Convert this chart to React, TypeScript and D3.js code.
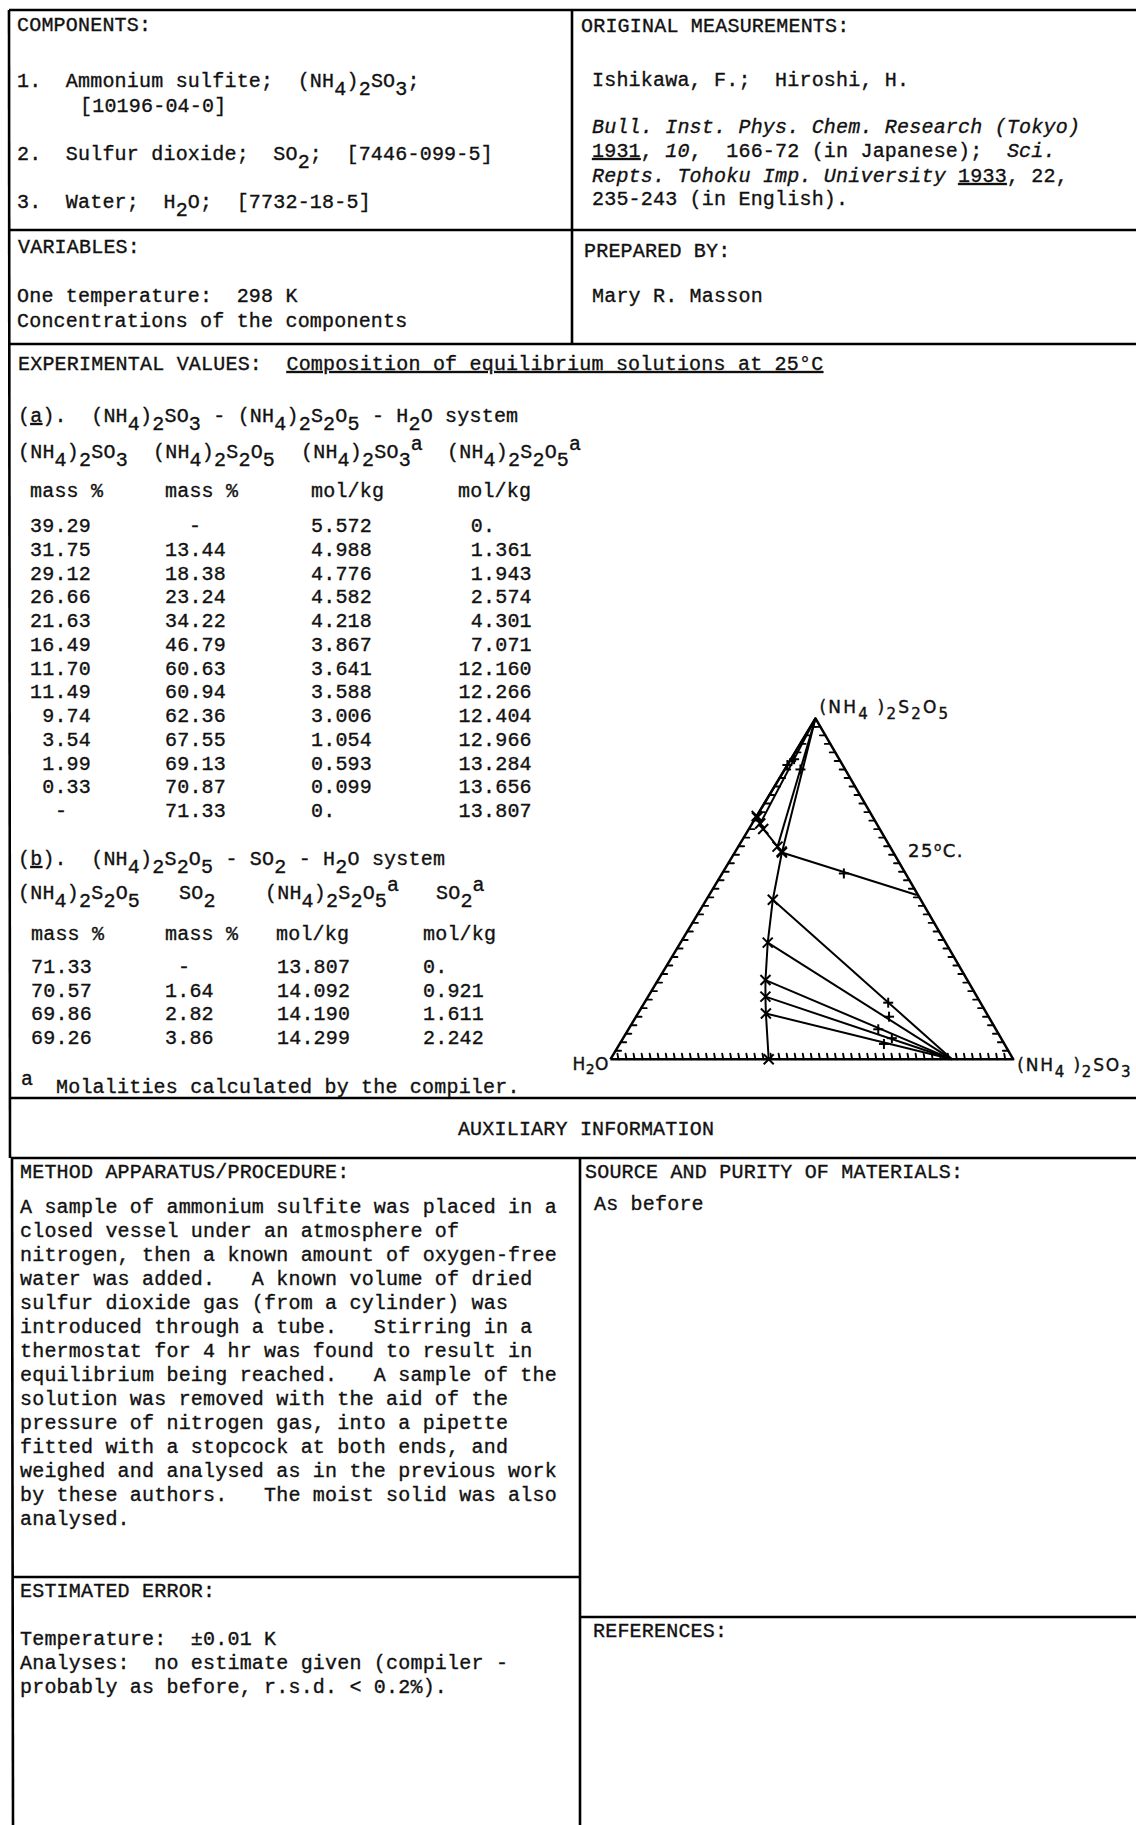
import React from "react";
import * as d3 from "d3";

// ---------- table (a): (NH4)2SO3 - (NH4)2S2O5 - H2O ----------
const aSulfiteMass = ["39.29", "31.75", "29.12", "26.66", "21.63", "16.49", "11.70", "11.49", "9.74", "3.54", "1.99", "0.33", "-"];
const aPyroMass = ["-", "13.44", "18.38", "23.24", "34.22", "46.79", "60.63", "60.94", "62.36", "67.55", "69.13", "70.87", "71.33"];
const aSulfiteMolal = ["5.572", "4.988", "4.776", "4.582", "4.218", "3.867", "3.641", "3.588", "3.006", "1.054", "0.593", "0.099", "0."];
const aPyroMolal = ["0.", "1.361", "1.943", "2.574", "4.301", "7.071", "12.160", "12.266", "12.404", "12.966", "13.284", "13.656", "13.807"];

// ---------- table (b): (NH4)2S2O5 - SO2 - H2O ----------
const bPyroMass = ["71.33", "70.57", "69.86", "69.26"];
const bSO2Mass = ["-", "1.64", "2.82", "3.86"];
const bPyroMolal = ["13.807", "14.092", "14.190", "14.299"];
const bSO2Molal = ["0.", "0.921", "1.611", "2.242"];

// ---------- tie lines of the phase diagram (mass % sulfite, mass % pyrosulfite) ----------
const hydrateSolid: [number, number] = [84.8, 0];
const hydrateTieRows = [1, 2, 3, 4, 5];
const hydrateResidues: [number, number][] = [[65.6, 4.5], [66.7, 6.2], [62.0, 8.8], [62.8, 12.5], [60.5, 16.6]];
const pyroSolid: [number, number] = [0, 100];
const pyroTieRows = [12, 10, 8, 6];
const pyroResidues: ([number, number] | null)[] = [[0, 86.3], [0.8, 88.0], [3.9, 85.0], null];
const invariantRow = 6;
const invariantEnd: [number, number] = [51.5, 48.2];
const invariantResidue: [number, number] = [30.2, 54.5];

const procedureLines = [
  "A sample of ammonium sulfite was placed in a",
  "closed vessel under an atmosphere of",
  "nitrogen, then a known amount of oxygen-free",
  "water was added.   A known volume of dried",
  "sulfur dioxide gas (from a cylinder) was",
  "introduced through a tube.   Stirring in a",
  "thermostat for 4 hr was found to result in",
  "equilibrium being reached.   A sample of the",
  "solution was removed with the aid of the",
  "pressure of nitrogen gas, into a pipette",
  "fitted with a stopcock at both ends, and",
  "weighed and analysed as in the previous work",
  "by these authors.   The moist solid was also",
  "analysed.",
];

const FONT = "'Liberation Mono', 'DejaVu Sans Mono', monospace";
const PLOT_FONT = "'DejaVu Sans', 'Liberation Sans', sans-serif";
const FS = 20;
const LS = 0.2;
const CW = FS * 0.6 + LS;
const INK = "#111";
const TEXT_STROKE = { stroke: INK, strokeWidth: 0.35 };

type Span = { t: string; sub?: boolean; sup?: boolean; it?: boolean; ul?: boolean };

// "_x" makes one subscript character, "^x" one superscript character
function parse(s: string, extra: Partial<Span> = {}): Span[] {
  const out: Span[] = [];
  let buf = "";
  for (let i = 0; i < s.length; i++) {
    const c = s[i];
    if ((c === "_" || c === "^") && i + 1 < s.length) {
      if (buf) { out.push({ t: buf, ...extra }); buf = ""; }
      out.push({ t: s[i + 1], sub: c === "_", sup: c === "^", ...extra });
      i++;
    } else buf += c;
  }
  if (buf) out.push({ t: buf, ...extra });
  return out;
}

function Rich(props: {
  x: number; y: number; spans: Span[]; subDy?: number; supDy?: number;
  subSize?: number; font?: string; size?: number; ls?: number; anchor?: string; weight?: number;
}) {
  const { x, y, spans, subDy = 8, supDy = -8, subSize, font = FONT, size = FS, ls = LS, anchor, weight = 0.35 } = props;
  let cur = 0;
  return (
    <text x={x} y={y} fontFamily={font} fontSize={size} letterSpacing={ls} fill={INK}
      stroke={INK} strokeWidth={weight}
      textAnchor={anchor as any} style={{ whiteSpace: "pre" }}>
      {spans.map((s, i) => {
        const target = s.sub ? subDy : s.sup ? supDy : 0;
        const dy = target - cur;
        cur = target;
        return (
          <tspan key={i} dy={dy !== 0 ? dy : undefined}
            fontSize={(s.sub || s.sup) && subSize ? subSize : undefined}
            fontStyle={s.it ? "italic" : undefined}
            textDecoration={s.ul ? "underline" : undefined}>
            {s.t}
          </tspan>
        );
      })}
    </text>
  );
}

const T = (x: number, y: number, s: string, extra: Partial<Span> = {}) => (
  <Rich x={x} y={y} spans={parse(s, extra)} />
);

function numCell(str: string, decX: number, dashX: number, y: number, key: string) {
  if (str === "-") {
    return <text key={key} x={dashX} y={y} fontFamily={FONT} fontSize={FS} fill={INK} {...TEXT_STROKE} textAnchor="middle">-</text>;
  }
  const idx = str.indexOf(".");
  const i = idx < 0 ? str.length : idx;
  return (
    <text key={key} x={decX - i * CW} y={y} fontFamily={FONT} fontSize={FS} letterSpacing={LS} fill={INK} {...TEXT_STROKE}>{str}</text>
  );
}

const val = (s: string) => (s === "-" ? 0 : parseFloat(s));

// ternary geometry: H2O at lower left, (NH4)2SO3 at lower right, (NH4)2S2O5 at apex
const bY = d3.scaleLinear().domain([0, 100]).range([1059.3, 718.3]);
const aX = d3.scaleLinear().domain([0, 100]).range([0, 402.9]);
const bX = d3.scaleLinear().domain([0, 100]).range([0, 205.1]);
const X0 = 610.4;
const tern = (a: number, b: number): [number, number] => [X0 + aX(a) + bX(b), bY(b)];

const MARK = 5;

function Cross({ p }: { p: [number, number] }) {
  return (
    <g>
      <line x1={p[0] - MARK} y1={p[1] - MARK} x2={p[0] + MARK} y2={p[1] + MARK} />
      <line x1={p[0] - MARK} y1={p[1] + MARK} x2={p[0] + MARK} y2={p[1] - MARK} />
    </g>
  );
}
function Plus({ p }: { p: [number, number] }) {
  return (
    <g>
      <line x1={p[0] - MARK} y1={p[1]} x2={p[0] + MARK} y2={p[1]} />
      <line x1={p[0]} y1={p[1] - MARK} x2={p[0]} y2={p[1] + MARK} />
    </g>
  );
}

function Ternary() {
  const line = d3.line();
  const solution: [number, number][] = aSulfiteMass.map((s, i) => [val(s), val(aPyroMass[i])]);
  const solPts = solution.map(([a, b]) => tern(a, b));
  const vH = tern(0, 0), vR = tern(100, 0), vT = tern(0, 100);

  const ticks: JSX.Element[] = [];
  d3.range(2, 100, 2).forEach((a) => {
    const p = tern(a, 0);
    ticks.push(<line key={"tb" + a} x1={p[0]} y1={p[1]} x2={p[0] - 1} y2={p[1] - 5.5} />);
  });
  d3.range(2.5, 100, 2.5).forEach((b) => {
    const pl = tern(0, b);
    ticks.push(<line key={"tl" + b} x1={pl[0]} y1={pl[1]} x2={pl[0] + 5.5} y2={pl[1]} />);
    const pr = tern(100 - b, b);
    ticks.push(<line key={"tr" + b} x1={pr[0]} y1={pr[1]} x2={pr[0] - 5.5} y2={pr[1]} />);
  });

  return (
    <g>
      <g stroke="#000" strokeWidth={1.9} fill="none" strokeLinecap="round">{ticks}</g>
      <path d={line([vH, vR, vT, vH]) as string} fill="none" stroke="#000" strokeWidth={2.5} strokeLinejoin="round" />
      <g stroke="#000" strokeWidth={2} fill="none">
        <path d={line(solPts) as string} />
        {hydrateTieRows.map((r, i) => (
          <path key={"h" + i} d={line([solPts[r], tern(...hydrateSolid)]) as string} />
        ))}
        {pyroTieRows.map((r, i) => (
          <path key={"p" + i} d={line([solPts[r], tern(...pyroSolid)]) as string} />
        ))}
        <path d={line([solPts[invariantRow], tern(...invariantEnd)]) as string} />
      </g>
      <g stroke="#000" strokeWidth={2}>
        {solPts.map((p, i) => <Cross key={"x" + i} p={p} />)}
        {hydrateResidues.map((r, i) => <Plus key={"hr" + i} p={tern(...r)} />)}
        {pyroResidues.map((r, i) => (r ? <Plus key={"pr" + i} p={tern(...r)} /> : null))}
        <Plus p={tern(...invariantResidue)} />
      </g>
      <Rich x={vT[0] + 4} y={vT[1] - 5} spans={parse("(NH_4 )_2S_2O_5")} font={PLOT_FONT} size={17} ls={2.2} subDy={6} subSize={15} weight={0.4} />
      <Rich x={vR[0] + 4} y={vR[1] + 12} spans={parse("(NH_4 )_2SO_3")} font={PLOT_FONT} size={17} ls={1.8} subDy={6} subSize={15} weight={0.4} />
      <Rich x={vH[0] - 38} y={vH[1] + 11} spans={parse("H_2O")} font={PLOT_FONT} size={17} ls={0.5} subDy={4} subSize={14} weight={0.4} />
      <Rich x={908} y={857} spans={[{ t: "25" }, { t: "o", sup: true }, { t: "C." }]} font={PLOT_FONT} size={18} ls={1.5} supDy={-6} subSize={12} weight={0.4} />
    </g>
  );
}

export default function App() {
  const rowA = (i: number) => 532 + i * 23.75;
  const rowB = (i: number) => 973 + i * 23.7;
  const border = { stroke: "#000", strokeWidth: 2.6 };

  return (
    <svg width={1136} height={1825} viewBox="0 0 1136 1825"
      style={{ position: "absolute", left: 0, top: 0, display: "block", background: "#fff" }}>
      <rect x={0} y={0} width={1136} height={1825} fill="#fff" />

      {/* frame */}
      <g {...border}>
        <line x1={9} y1={10} x2={1136} y2={10} />
        <line x1={9} y1={10} x2={10} y2={1158} />
        <line x1={12} y1={1158} x2={13} y2={1825} />
        <line x1={572} y1={10} x2={572} y2={344} />
        <line x1={9} y1={230} x2={1136} y2={230} />
        <line x1={9} y1={344} x2={1136} y2={344} />
        <line x1={10} y1={1098} x2={1136} y2={1098} />
        <line x1={11} y1={1158} x2={1136} y2={1158} />
        <line x1={580} y1={1158} x2={580} y2={1825} />
        <line x1={12} y1={1577} x2={580} y2={1577} />
        <line x1={580} y1={1617} x2={1136} y2={1617} />
      </g>

      {/* components */}
      {T(17, 31, "COMPONENTS:")}
      {T(17, 87, "1.  Ammonium sulfite;  (NH_4)_2SO_3;")}
      {T(80, 112, "[10196-04-0]")}
      {T(17, 160, "2.  Sulfur dioxide;  SO_2;  [7446-099-5]")}
      {T(17, 208, "3.  Water;  H_2O;  [7732-18-5]")}

      {/* variables */}
      {T(18, 253, "VARIABLES:")}
      {T(17, 302, "One temperature:  298 K")}
      {T(17, 327, "Concentrations of the components")}

      {/* original measurements */}
      {T(581, 32, "ORIGINAL MEASUREMENTS:")}
      {T(592, 86, "Ishikawa, F.;  Hiroshi, H.")}
      {T(592, 133, "Bull. Inst. Phys. Chem. Research (Tokyo)", { it: true })}
      <Rich x={592} y={157} spans={[
        { t: "1931", ul: true }, { t: ", " }, { t: "10", it: true }, { t: ",  166-72 (in Japanese);  " }, { t: "Sci.", it: true },
      ]} />
      <Rich x={592} y={182} spans={[
        { t: "Repts. Tohoku Imp. University", it: true }, { t: " " }, { t: "1933", ul: true }, { t: ", 22," },
      ]} />
      {T(592, 205, "235-243 (in English).")}

      {T(584, 257, "PREPARED BY:")}
      {T(592, 302, "Mary R. Masson")}

      {/* experimental values */}
      <Rich x={18} y={370} spans={[
        { t: "EXPERIMENTAL VALUES:  " }, { t: "Composition of equilibrium solutions at 25°C", ul: true },
      ]} />
      <Rich x={18} y={422} spans={[{ t: "(" }, { t: "a", ul: true }, { t: ").  " }, ...parse("(NH_4)_2SO_3 - (NH_4)_2S_2O_5 - H_2O system")]} />
      {T(18, 458, "(NH_4)_2SO_3")}
      {T(153, 458, "(NH_4)_2S_2O_5")}
      {T(301, 458, "(NH_4)_2SO_3^a")}
      {T(447, 458, "(NH_4)_2S_2O_5^a")}
      {T(30, 497, "mass %")}
      {T(165, 497, "mass %")}
      {T(311, 497, "mol/kg")}
      {T(458, 497, "mol/kg")}
      {aSulfiteMass.map((s, i) => numCell(s, 54.4, 61, rowA(i), "a1" + i))}
      {aPyroMass.map((s, i) => numCell(s, 189.4, 195, rowA(i), "a2" + i))}
      {aSulfiteMolal.map((s, i) => numCell(s, 323.2, 330, rowA(i), "a3" + i))}
      {aPyroMolal.map((s, i) => numCell(s, 483, 490, rowA(i), "a4" + i))}

      <Rich x={18} y={865} spans={[{ t: "(" }, { t: "b", ul: true }, { t: ").  " }, ...parse("(NH_4)_2S_2O_5 - SO_2 - H_2O system")]} />
      {T(18, 899, "(NH_4)_2S_2O_5")}
      {T(179, 899, "SO_2")}
      {T(265, 899, "(NH_4)_2S_2O_5^a")}
      {T(436, 899, "SO_2^a")}
      {T(31, 940, "mass %")}
      {T(165, 940, "mass %")}
      {T(276, 940, "mol/kg")}
      {T(423, 940, "mol/kg")}
      {bPyroMass.map((s, i) => numCell(s, 55.4, 62, rowB(i), "b1" + i))}
      {bSO2Mass.map((s, i) => numCell(s, 177.2, 184, rowB(i), "b2" + i))}
      {bPyroMolal.map((s, i) => numCell(s, 301.4, 308, rowB(i), "b3" + i))}
      {bSO2Molal.map((s, i) => numCell(s, 435.2, 442, rowB(i), "b4" + i))}

      <text x={21} y={1085} fontFamily={FONT} fontSize={FS} fill={INK} {...TEXT_STROKE}>a</text>
      {T(56, 1093, "Molalities calculated by the compiler.")}

      <Ternary />

      {/* auxiliary information */}
      <text x={586} y={1135} fontFamily={FONT} fontSize={FS} letterSpacing={LS} fill={INK} {...TEXT_STROKE} textAnchor="middle">AUXILIARY INFORMATION</text>
      {T(20, 1178, "METHOD APPARATUS/PROCEDURE:")}
      {procedureLines.map((l, i) => (
        <text key={"pl" + i} x={20} y={1213 + i * 24} fontFamily={FONT} fontSize={FS} letterSpacing={LS} fill={INK} {...TEXT_STROKE} style={{ whiteSpace: "pre" }}>{l}</text>
      ))}
      {T(585, 1178, "SOURCE AND PURITY OF MATERIALS:")}
      {T(594, 1210, "As before")}

      {T(20, 1597, "ESTIMATED ERROR:")}
      {T(20, 1645, "Temperature:  ±0.01 K")}
      {T(20, 1669, "Analyses:  no estimate given (compiler -")}
      {T(20, 1693, "probably as before, r.s.d. < 0.2%).")}

      {T(593, 1637, "REFERENCES:")}
    </svg>
  );
}
